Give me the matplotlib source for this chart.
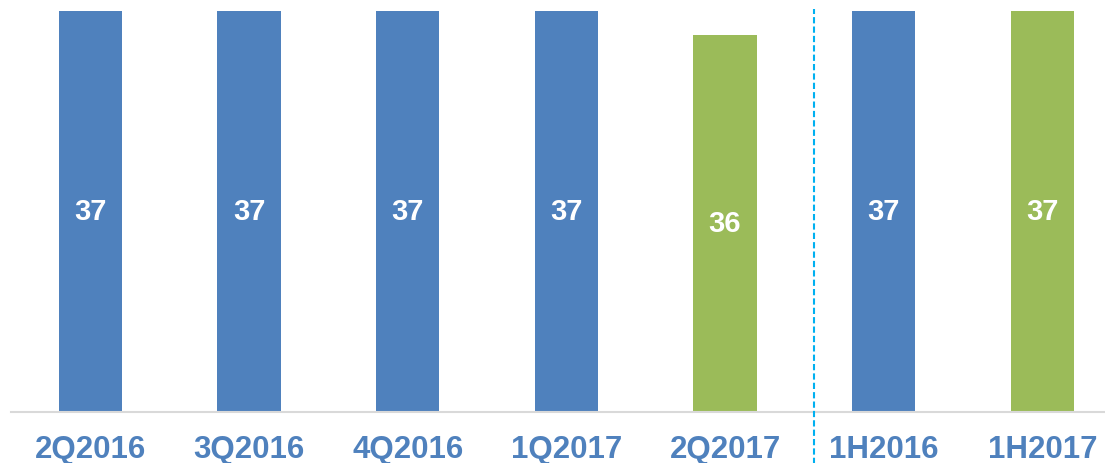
import matplotlib
matplotlib.use("Agg")
import matplotlib.pyplot as plt
import matplotlib.transforms as mtransforms

categories = ["2Q2016", "3Q2016", "4Q2016", "1Q2017", "2Q2017", "1H2016", "1H2017"]
values = [37.4, 37.4, 37.4, 37.4, 35.6, 37.4, 37.4]
colors = ["#4F81BD", "#4F81BD", "#4F81BD", "#4F81BD", "#9BBB59", "#4F81BD", "#9BBB59"]
y_min, y_max = 7.3, 37.4
divider_pos = 4.56

plt.rcParams['font.family'] = ['Liberation Sans', 'DejaVu Sans']

fig = plt.figure(figsize=(11.05, 4.64), dpi=100)
ax = fig.add_axes([11 / 1105, 51 / 464, 7 * 158.67 / 1105, 401 / 464])

x = list(range(len(categories)))
heights = [v - y_min for v in values]
ax.bar(x, heights, bottom=y_min, width=0.4, color=colors, zorder=2)

for xi, v in zip(x, values):
    ax.text(xi, (y_min + v) / 2, f"{v:.0f}", ha="center", va="center",
            color="white", fontsize=21, fontweight="bold", zorder=3)

ax.set_xlim(-0.5, 6.5)
ax.set_ylim(y_min, y_max)
ax.set_xticks(x)
ax.set_xticklabels(categories, fontsize=22.5, fontweight="bold", color="#4F81BD")
ax.tick_params(axis="x", length=0, pad=16)
ax.set_yticks([])
for s in ["top", "right", "left"]:
    ax.spines[s].set_visible(False)
ax.spines["bottom"].set_color("#D9D9D9")
ax.spines["bottom"].set_linewidth(1.5)

trans = mtransforms.blended_transform_factory(ax.transData, ax.transAxes)
ax.plot([divider_pos, divider_pos], [-0.14, 1.005], transform=trans,
        color="#00B0F0", linewidth=1.5, linestyle=(0, (3, 1.5)), clip_on=False, zorder=4)

fig.savefig("out.png", dpi=100)
